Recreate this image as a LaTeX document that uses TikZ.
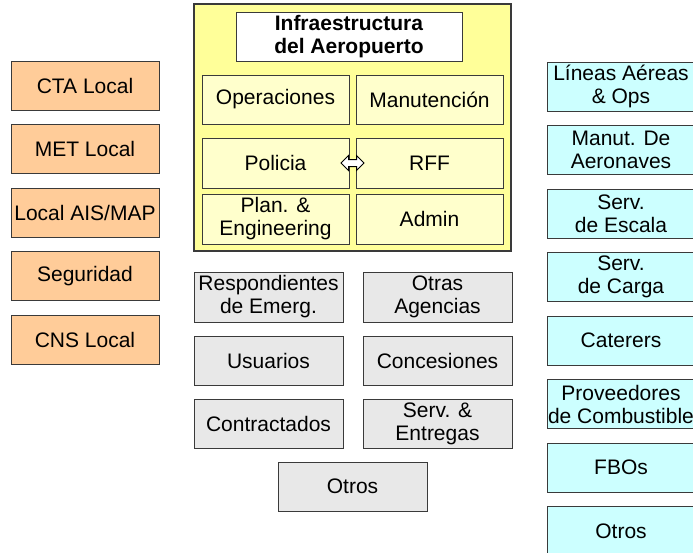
\documentclass[tikz,border=0pt]{standalone}
\usepackage{fontspec}
\setmainfont{Liberation Sans}
\usetikzlibrary{positioning, shapes.arrows, calc}

\definecolor{localorange}{HTML}{FFCC99}
\definecolor{airlinecyan}{HTML}{CCFFFF}
\definecolor{framey}{HTML}{FFFF99}
\definecolor{unity}{HTML}{FFFFCC}
\definecolor{othergray}{HTML}{E8E8E8}
\definecolor{edge}{HTML}{3A3A3A}

\begin{document}
\begin{tikzpicture}[
    x=1pt, y=-1pt,
    font=\fontsize{21}{23}\selectfont,
    box/.style={rectangle, draw=edge, line width=1pt, minimum width=148pt, minimum height=49pt, inner sep=0pt, align=center},
    local/.style={box, fill=localorange},
    airline/.style={box, fill=airlinecyan},
    unit/.style={box, fill=unity, minimum width=147pt},
    other/.style={box, fill=othergray, minimum width=149pt, minimum height=50pt},
    frame/.style={rectangle, draw=edge, line width=1.3pt, fill=framey, minimum width=317pt, minimum height=247pt, inner sep=0pt},
    link/.style={double arrow, draw=black, line width=1pt, fill=white, minimum height=23pt, inner sep=3pt, double arrow head extend=4pt}
]
\clip (0,0) rectangle (693,552);

% Airport frame
\node (infra) [frame] at (352.5,127.5) {};
\node (titulo) [box, fill=white, minimum width=226pt] at (349,36.5) {\textbf{Infraestructura}\\\textbf{del Aeropuerto}};
\node (operaciones) [unit] at (275.5,99.5) {Operaciones};
\node (manutencion) [unit, right=6pt of operaciones] {Manutención};
\node (policia) [unit, below=13pt of operaciones, minimum height=50pt] {Policia};
\node (rff) [unit, right=6pt of policia, minimum height=50pt] {RFF};
\node (plan) [unit, below=5pt of policia, minimum height=50pt] {Plan. \&\\Engineering};
\node (admin) [unit, right=6pt of plan, minimum height=50pt] {Admin};
\node (enlace) [link] at ($(policia.east)!0.5!(rff.west)$) {};

% Local providers
\node (cta) [local] at (85,85.5) {CTA Local};
\node (met) [local, below=13.5pt of cta] {MET Local};
\node (ais) [local, below=13.5pt of met] {Local AIS/MAP};
\node (seguridad) [local, below=13.5pt of ais] {Seguridad};
\node (cns) [local, below=13.5pt of seguridad] {CNS Local};

% Other parties
\node (respondientes) [other] at (268.5,297) {Respondientes\\de Emerg.};
\node (agencias) [other, right=19pt of respondientes] {Otras\\Agencias};
\node (usuarios) [other, below=13pt of respondientes, minimum height=49pt] {Usuarios};
\node (concesiones) [other, right=19pt of usuarios, minimum height=49pt] {Concesiones};
\node (contractados) [other, below=13pt of usuarios, minimum height=49pt] {Contractados};
\node (entregas) [other, right=19pt of contractados, minimum height=49pt] {Serv. \&\\Entregas};
\node (otrosg) [other, minimum height=49pt] at (352.5,486.5) {Otros};

% Airlines and services
\node (lineas) [airline] at (621,86.5) {Líneas Aéreas\\\& Ops};
\node (aeronaves) [airline, below=13.5pt of lineas] {Manut. De\\Aeronaves};
\node (escala) [airline, below=13.5pt of aeronaves] {Serv.\\de Escala};
\node (carga) [airline, below=13.5pt of escala] {Serv.\\de Carga};
\node (caterers) [airline, below=13.5pt of carga] {Caterers};
\node (combustible) [airline, below=13.5pt of caterers] {Proveedores\\de Combustible};
\node (fbos) [airline, below=13.5pt of combustible] {FBOs};
\node (otrosc) [airline, below=13.5pt of fbos] {Otros};

\end{tikzpicture}
\end{document}
